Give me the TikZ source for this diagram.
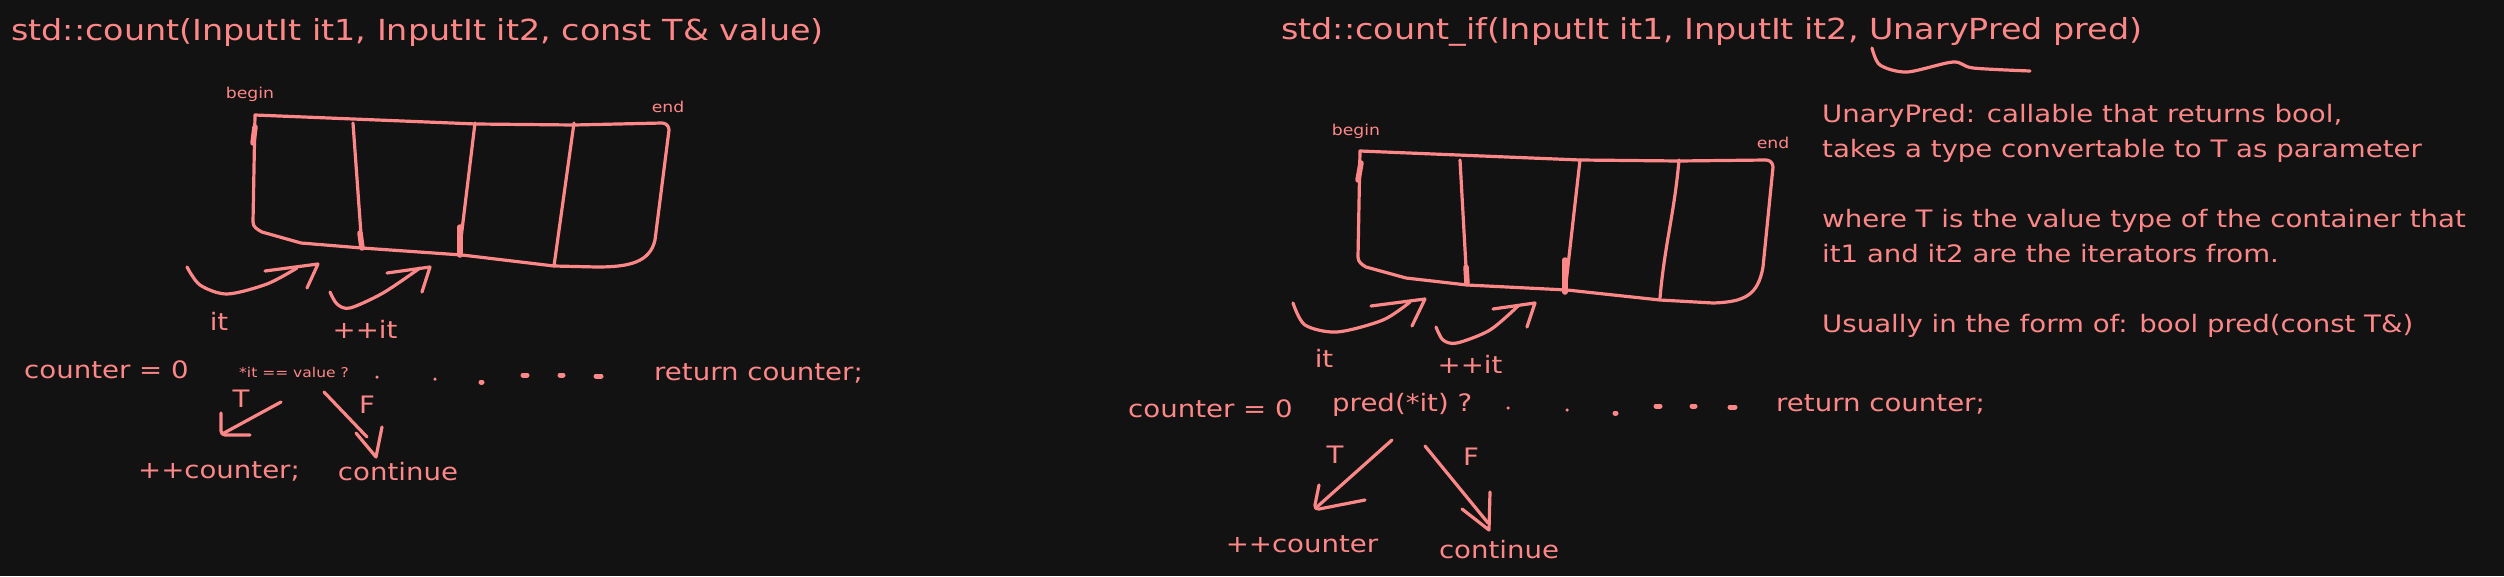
\documentclass[tikz,border=0pt]{standalone}
\usepackage{fontspec}
\setmainfont{DejaVu Sans}[FakeStretch=1.15]
\usepackage{tikz}
\definecolor{ink}{HTML}{FF8787}
\definecolor{board}{HTML}{121212}

\begin{document}
\begin{tikzpicture}[x=1pt,y=-1pt,
  txt/.style={text=ink,inner sep=0pt,font=\fontsize{24}{28}\selectfont},
  head/.style={text=ink,inner sep=0pt,font=\fontsize{29}{34}\selectfont},
  tiny/.style={text=ink,inner sep=0pt,font=\fontsize{15}{18}\selectfont},
  pen/.style={draw=ink,line width=3.2pt,line cap=round,line join=round},
  press/.style={draw=ink,line width=5.5pt,line cap=round},
  dotpen/.style={draw=ink,line cap=round}]
\fill[board] (0,0) rectangle (2504,576);

% ---------- std::count ----------
\node[head,anchor=base west] (titleA) at (11,40) {std::count(InputIt it1, InputIt it2, const T\& value)};
\node[tiny,anchor=base] (beginA) at (250,98) {begin};
\node[tiny,anchor=base] (endA) at (668,112) {end};

% container
\draw[pen] (255,115) -- (476,124) -- (574,125) -- (662,123) to[out=0,in=90] (669,130)
  -- (655,240) .. controls (650,262) and (630,267) .. (597,267) -- (554,266) -- (462,255)
  -- (362,248) -- (301,243) -- (262,232) to[out=150,in=-90] (253,222) -- cycle;
\draw[pen] (353,123) -- (362,248);
\draw[pen] (475,123) -- (459,255);
\draw[pen] (574,123) -- (554,266);
\draw[press] (255,127) -- (253,143);
\draw[press] (360,233) -- (362,248);
\draw[press] (460,227) -- (460,255);

% iterator moves
\draw[pen] plot[smooth] coordinates {(187,267) (200,285) (227,294) (267,284) (297,268)};
\draw[pen] (265,271) -- (318,264) -- (307,288);
\draw[pen] plot[smooth] coordinates {(330,292) (337,304) (350,308) (383,293) (420,268)};
\draw[pen] (387,273) -- (430,267) -- (422,292);
\node[txt,anchor=base] (itA) at (219,330) {it};
\node[txt,anchor=base] (incA) at (365,338) {++it};

% loop line
\node[txt,anchor=base west] (initA) at (24,378) {counter = 0};
\node[tiny,font=\fontsize{13.5}{16}\selectfont,anchor=base] (condA) at (294,377) {*it == value ?};
\foreach \x/\y/\l/\w in {377/377/0/3.5, 435/379/0/3.5, 481/382/1/5, 523/375/4/5, 560/375/3/5, 596/376/5/5}
  \draw[dotpen,line width=\w pt] (\x,\y) -- ++(\l,0);
\node[txt,anchor=base west] (retA) at (654,380) {return counter;};

% branches
\node[txt,anchor=base] (trueA) at (241,407) {T};
\node[txt,anchor=base] (falseA) at (367,413) {F};
\draw[pen] (281,402) -- (224,433);
\draw[pen,rounded corners=4pt] (221,413) -- (221,435) -- (250,435);
\draw[pen] (324,392) -- (367,437);
\draw[pen] (356,433) -- (376,457) -- (382,427);
\node[txt,anchor=base] (hitA) at (219,478) {++counter;};
\node[txt,anchor=base] (skipA) at (398,480) {continue};

% ---------- std::count_if ----------
\node[head,anchor=base west] (titleB) at (1281,39) {std::count\_if(InputIt it1, InputIt it2, UnaryPred pred)};
\draw[pen] plot[smooth] coordinates {(1872,48) (1880,65) (1907,72) (1953,62) (1973,68) (2030,71)};
\node[tiny,anchor=base] (beginB) at (1356,135) {begin};
\node[tiny,anchor=base] (endB) at (1773,148) {end};

% container
\draw[pen] (1360,151) -- (1580,160) -- (1679,161) -- (1766,160) to[out=0,in=90] (1773,167)
  -- (1763,267) .. controls (1758,295) and (1745,302) .. (1713,303) -- (1660,300) -- (1567,290)
  -- (1467,285) -- (1406,278) -- (1366,267) to[out=150,in=-90] (1358,257) -- cycle;
\draw[pen] (1460,160) -- (1467,285);
\draw[pen] (1580,160) -- (1565,292);
\draw[pen] (1679,160) to[out=-95,in=85] (1660,298);
\draw[press] (1361,163) -- (1358,180);
\draw[press] (1466,267) -- (1467,283);
\draw[press] (1565,260) -- (1565,292);

% iterator moves
\draw[pen] plot[smooth] coordinates {(1293,303) (1305,325) (1337,332) (1383,320) (1410,302)};
\draw[pen] (1371,306) -- (1425,299) -- (1412,326);
\draw[pen] plot[smooth] coordinates {(1436,327) (1443,340) (1457,343) (1490,330) (1518,306)};
\draw[pen] (1493,309) -- (1535,303) -- (1527,327);
\node[txt,anchor=base] (itB) at (1324,367) {it};
\node[txt,anchor=base] (incB) at (1470,373) {++it};

% loop line
\node[txt,anchor=base west] (initB) at (1128,417) {counter = 0};
\node[txt,anchor=base west] (condB) at (1332,411) {pred(*it) ?};
\foreach \x/\y/\l/\w in {1508/408/0/3.5, 1567/410/0/3.5, 1615/413/1/5, 1656/406/4/5, 1692/406/3/5, 1730/407/5/5}
  \draw[dotpen,line width=\w pt] (\x,\y) -- ++(\l,0);
\node[txt,anchor=base west] (retB) at (1776,411) {return counter;};

% branches
\node[txt,anchor=base] (trueB) at (1335,463) {T};
\node[txt,anchor=base] (falseB) at (1471,465) {F};
\draw[pen] (1392,440) -- (1318,506);
\draw[pen,rounded corners=5pt] (1319,485) -- (1314,510) -- (1365,500);
\draw[pen] (1425,446) -- (1488,523);
\draw[pen] (1462,509) -- (1489,530) -- (1490,492);
\node[txt,anchor=base] (hitB) at (1302,552) {++counter};
\node[txt,anchor=base] (skipB) at (1499,558) {continue};

% notes
\node[txt,anchor=base west] (note1) at (1822,122) {UnaryPred: callable that returns bool,};
\node[txt,anchor=base west] (note2) at (1822,157) {takes a type convertable to T as parameter};
\node[txt,anchor=base west] (note3) at (1822,227) {where T is the value type of the container that};
\node[txt,anchor=base west] (note4) at (1822,262) {it1 and it2 are the iterators from.};
\node[txt,anchor=base west] (note5) at (1822,332) {Usually in the form of: bool pred(const T\&)};
\end{tikzpicture}
\end{document}
